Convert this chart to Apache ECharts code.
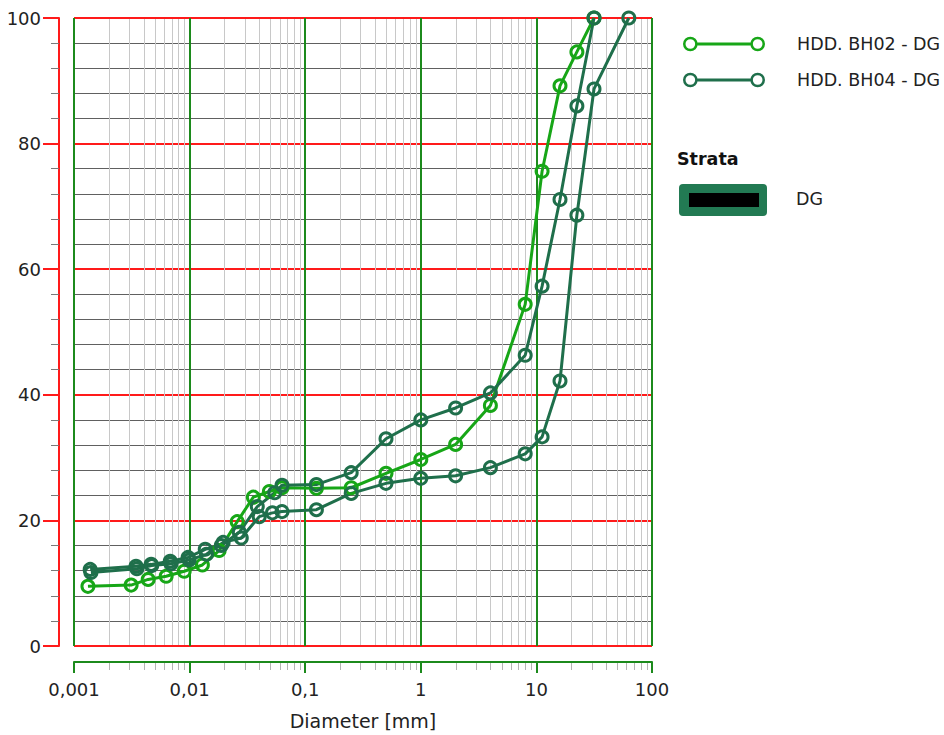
<!DOCTYPE html>
<html>
<head>
<meta charset="utf-8">
<script src="https://cdn.jsdelivr.net/npm/echarts@6/dist/echarts.min.js"></script>
<style>
html,body{margin:0;padding:0;background:#fff;}
#chart{width:944px;height:735px;}
</style>
</head>
<body>
<div id="chart"></div>
<script>
// ---- data ----
const bh02Name = 'HDD. BH02 - DG';
const bh04Name = 'HDD. BH04 - DG';
const bh02Diam = [0.00132, 0.00312, 0.00438, 0.00627, 0.00898, 0.0129, 0.018, 0.0258, 0.0356, 0.049, 0.063, 0.125, 0.25, 0.5, 1, 2, 4, 8, 11.2, 16, 22.4, 31.5];
const bh02Pass = [9.5, 9.7, 10.6, 11.1, 11.9, 12.9, 15.2, 19.8, 23.7, 24.6, 25.2, 25.1, 25.2, 27.5, 29.7, 32.1, 38.3, 54.4, 75.6, 89.2, 94.6, 100];
const bh04aDiam = [0.00138, 0.00344, 0.00465, 0.0068, 0.0097, 0.01365, 0.0188, 0.0269, 0.0385, 0.0545, 0.063, 0.125, 0.25, 0.5, 1, 2, 4, 8, 11.2, 16, 22.4, 31.5];
const bh04aPass = [12.2, 12.7, 13.0, 13.5, 14.1, 15.4, 16.0, 18.1, 22.2, 24.4, 25.6, 25.7, 27.6, 33.0, 36.0, 37.9, 40.3, 46.3, 57.3, 71.1, 86.0, 100];
const bh04bDiam = [0.0014, 0.0035, 0.0047, 0.0069, 0.0099, 0.014, 0.0195, 0.028, 0.04, 0.052, 0.063, 0.125, 0.25, 0.5, 1, 2, 4, 8, 11.2, 16, 22.4, 31.5, 63];
const bh04bPass = [11.7, 12.3, 12.8, 13.1, 13.7, 14.6, 16.5, 17.2, 20.6, 21.2, 21.4, 21.7, 24.3, 25.9, 26.7, 27.1, 28.4, 30.6, 33.3, 42.2, 68.6, 88.7, 100];
const xMin = 0.001, xMax = 100;
const yMin = 0, yMax = 100, yInterval = 20;
const decadeStarts = [0.001, 0.01, 0.1, 1, 10];
const minorMultipliers = [2, 3, 4, 5, 6, 7, 8, 9];
const xAxisName = 'Diameter [mm]';
const strataTitle = 'Strata';
const strataName = 'DG';

// ---- styles ----
const FONT = 'DejaVu Sans';
const cBright = '#17a617';
const cDark = '#1f6f4b';
const cRed = '#ff1a1a';
const cGreen = '#1c8a1c';
const cMinorV = '#c8c8c8';
const cMinorTick = '#b4b4b4';
const X_OFFSET = 16;

function zip(a, b) { return a.map((v, i) => [v, b[i]]); }

// minor log positions (2..9 within each decade) for gridlines/ticks
const minorVals = [];
decadeStarts.forEach(d => minorMultipliers.forEach(m => minorVals.push(Number((d * m).toPrecision(6)))));

const iconPath = 'path://M0.2,7.5 A7.3,7.3 0 1 1 14.8,7.5 A7.3,7.3 0 1 1 0.2,7.5 Z ' +
  'M2.7,7.5 A4.8,4.8 0 1 0 12.3,7.5 A4.8,4.8 0 1 0 2.7,7.5 Z ' +
  'M12.5,6 L69.5,6 L69.5,9 L12.5,9 Z ' +
  'M67.2,7.5 A7.3,7.3 0 1 1 81.8,7.5 A7.3,7.3 0 1 1 67.2,7.5 Z ' +
  'M69.7,7.5 A4.8,4.8 0 1 0 79.3,7.5 A4.8,4.8 0 1 0 69.7,7.5 Z';

function lineSeries(name, diam, pass, color) {
  return {
    type: 'line', name: name, data: zip(diam, pass),
    symbol: 'circle', symbolSize: 12, z: 3,
    lineStyle: { color: color, width: 3 },
    itemStyle: { color: 'rgba(255,255,255,0)', borderColor: color, borderWidth: 3 },
    emphasis: { disabled: true },
    animation: false
  };
}

const minorGridSeries = {
  type: 'custom', name: '__minorGrid', z: 1, silent: true, animation: false, clip: false,
  data: minorVals.map(v => [v, yMin]),
  encode: { x: 0, y: 1 },
  renderItem: function (params, api) {
    const v = api.value(0);
    const top = api.coord([v, yMax]);
    const bot = api.coord([v, yMin]);
    const x = Math.round(top[0]) + 0.5;
    return {
      type: 'group',
      children: [
        { type: 'line', shape: { x1: x, y1: top[1] + 1, x2: x, y2: bot[1] - 1 }, style: { stroke: cMinorV, lineWidth: 1 } },
        { type: 'line', shape: { x1: x, y1: bot[1] + X_OFFSET + 1, x2: x, y2: bot[1] + X_OFFSET + 8 }, style: { stroke: cMinorTick, lineWidth: 1 } }
      ]
    };
  }
};

const chart = echarts.init(document.getElementById('chart'), null, { renderer: 'svg' });
chart.setOption({
  backgroundColor: '#fff',
  animation: false,
  grid: { left: 74, right: 292, top: 18, bottom: 88 },
  xAxis: {
    type: 'log', logBase: 10, min: xMin, max: xMax,
    offset: X_OFFSET,
    name: xAxisName, nameLocation: 'middle', nameGap: 49,
    nameTextStyle: { fontFamily: FONT, fontSize: 19, color: '#222' },
    axisLine: { show: true, onZero: false, lineStyle: { color: cGreen, width: 2 } },
    axisTick: { show: true, length: 11, lineStyle: { color: cGreen, width: 2 } },
    minorTick: { show: false },
    splitLine: { show: true, lineStyle: { color: cGreen, width: 2 } },
    minorSplitLine: { show: false },
    axisLabel: {
      fontFamily: FONT, fontSize: 18, color: '#222', margin: 18,
      formatter: v => Number(Number(v).toPrecision(6)).toString().replace('.', ',')
    }
  },
  yAxis: {
    type: 'value', min: yMin, max: yMax, interval: yInterval,
    offset: 15,
    axisLine: { show: true, lineStyle: { color: cRed, width: 2 } },
    axisTick: { show: true, length: 16, lineStyle: { color: cRed, width: 2 } },
    minorTick: { show: true, splitNumber: 5, length: 8, lineStyle: { color: '#7a7a7a', width: 1 } },
    splitLine: { show: true, lineStyle: { color: cRed, width: 2 } },
    minorSplitLine: { show: true, lineStyle: { color: '#606060', width: 1 } },
    axisLabel: { fontFamily: FONT, fontSize: 18, color: '#222', margin: 18 }
  },
  legend: {
    left: 683, top: 35, orient: 'vertical', padding: 0,
    itemWidth: 82, itemHeight: 15, itemGap: 18,
    selectedMode: false,
    textStyle: { fontFamily: FONT, fontSize: 17.5, color: '#222', padding: [0, 0, 0, 27] },
    data: [
      { name: bh02Name, icon: iconPath, itemStyle: { color: cBright, borderWidth: 0 } },
      { name: bh04Name, icon: iconPath, itemStyle: { color: cDark, borderWidth: 0 } }
    ]
  },
  graphic: [
    { type: 'text', left: 677, top: 150, style: { text: strataTitle, font: 'bold 17.5px "' + FONT + '"', fill: '#111' } },
    { type: 'rect', left: 679, top: 184, shape: { width: 88, height: 32, r: 4 }, style: { fill: '#227a53' } },
    { type: 'rect', left: 689, top: 193, shape: { width: 70, height: 14 }, style: { fill: '#000' } },
    { type: 'text', left: 796, top: 190, style: { text: strataName, font: '17.5px "' + FONT + '"', fill: '#222' } }
  ],
  series: [
    minorGridSeries,
    lineSeries(bh02Name, bh02Diam, bh02Pass, cBright),
    lineSeries(bh04Name, bh04aDiam, bh04aPass, cDark),
    lineSeries(bh04Name, bh04bDiam, bh04bPass, cDark)
  ]
});
</script>
</body>
</html>
